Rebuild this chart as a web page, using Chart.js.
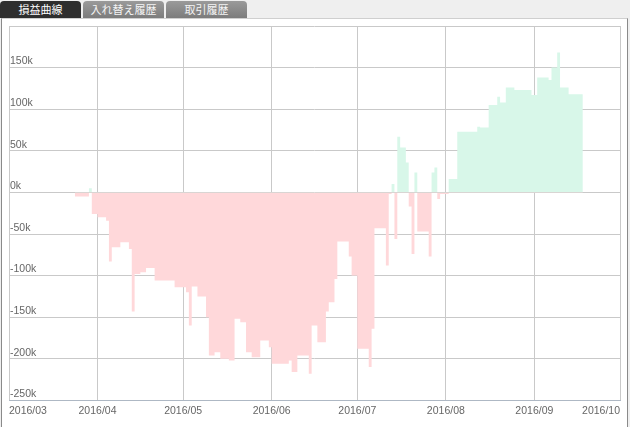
<!DOCTYPE html>
<html>
<head>
<meta charset="utf-8">
<script src="https://cdn.jsdelivr.net/npm/chart.js@4.4.1/dist/chart.umd.min.js"></script>
<style>
  html, body { margin: 0; padding: 0; }
  body { width: 630px; height: 427px; background: #efefef; position: relative; overflow: hidden;
         font-family: "Noto Sans CJK JP", "Noto Sans", sans-serif; }
  .tab { position: absolute; top: 1px; height: 17px; width: 81px; border-radius: 4px 4px 0 0;
         color: #fff; font-size: 11px; line-height: 17px; text-align: center; }
  .tab.on { background: #2e2e2e; }
  .tab.off { background: linear-gradient(#9a9a9a, #7c7c7c); color: #f4f4f4; }
  #frame { position: absolute; left: 1px; top: 18px; width: 625px; height: 420px; background: #fff;
           border-left: 1px solid #8a8a8a; border-right: 1px solid #8a8a8a; border-top: 1px solid #cfcfcf; }
  #wrap { position: absolute; left: 0; top: 0; width: 630px; height: 427px; }
</style>
</head>
<body>
<div class="tab on" style="left:0px">損益曲線</div>
<div class="tab off" style="left:83px">入れ替え履歴</div>
<div class="tab off" style="left:166px">取引履歴</div>
<div id="frame"></div>
<div id="wrap"><canvas id="pnlChart" width="630" height="427"></canvas></div>
<script>
// profit / loss curve, values in yen
const dates = [
  '2016-03-24', '2016-03-29', '2016-03-30', '2016-04-01', '2016-04-04', '2016-04-05', '2016-04-06',
  '2016-04-09', '2016-04-12', '2016-04-13', '2016-04-14', '2016-04-16', '2016-04-18', '2016-04-21',
  '2016-04-28', '2016-05-02', '2016-05-03', '2016-05-04', '2016-05-06', '2016-05-09', '2016-05-10',
  '2016-05-12', '2016-05-14', '2016-05-17', '2016-05-19', '2016-05-21', '2016-05-23', '2016-05-25',
  '2016-05-28', '2016-05-31', '2016-06-01', '2016-06-07', '2016-06-08', '2016-06-10', '2016-06-14',
  '2016-06-15', '2016-06-17', '2016-06-20', '2016-06-21', '2016-06-23', '2016-06-24', '2016-06-28',
  '2016-06-29', '2016-07-01', '2016-07-05', '2016-07-06', '2016-07-07', '2016-07-11', '2016-07-12',
  '2016-07-13', '2016-07-14', '2016-07-15', '2016-07-16', '2016-07-18', '2016-07-19', '2016-07-20',
  '2016-07-21', '2016-07-22', '2016-07-26', '2016-07-27', '2016-07-28', '2016-07-29', '2016-07-30',
  '2016-08-02', '2016-08-05', '2016-08-12', '2016-08-13', '2016-08-16', '2016-08-19', '2016-08-20',
  '2016-08-22', '2016-08-25', '2016-08-31', '2016-09-02', '2016-09-06', '2016-09-07', '2016-09-09',
  '2016-09-10', '2016-09-13', '2016-09-18'
];
const profit = [
  -5000, 5000, -26000, -30000, -34000, -83000, -66000,
  -60000, -68000, -143000, -98000, -96000, -91000, -106000,
  -114000, -120000, -160000, -113000, -125000, -150000, -196000,
  -192000, -200000, -202000, -152000, -156000, -192000, -198000,
  -178000, -186000, -206000, -202000, -216000, -196000, -218000,
  -160000, -180000, -143000, -132000, -104000, -59000, -77000,
  -100000, -188000, -210000, -164000, -43000, -88000, -2000,
  10000, -56000, 67000, 54000, 36000, -17000, -74000,
  24000, -47000, -77000, 24000, 30000, -8000, -2000,
  16000, 73000, 79000, 78000, 105000, 115000, 108000,
  126000, 123000, 117000, 138000, 135000, 150000, 168000,
  126000, 118000, 118000
];
const monthTicks = ['2016-03-01', '2016-04-01', '2016-05-01', '2016-06-01',
                    '2016-07-01', '2016-08-01', '2016-09-01', '2016-10-01'];

const DAY = 86400000;
const origin = Date.UTC(2016, 2, 1);
function toDay(s) {
    const p = s.split('-').map(Number);
    return (Date.UTC(p[0], p[1] - 1, p[2]) - origin) / DAY;
}
function dayLabel(v) {
    const d = new Date(origin + v * DAY);
    return d.getUTCFullYear() + '/' + String(d.getUTCMonth() + 1).padStart(2, '0');
}

const points = dates.map((s, i) => ({ x: toDay(s), y: profit[i] }));
const tickDays = monthTicks.map(toDay);
const tickFont = { family: '"Liberation Sans", Arial, sans-serif', size: 10.5 };

const ctx = document.getElementById('pnlChart').getContext('2d');
const chart = new Chart(ctx, {
    type: 'line',
    data: {
        datasets: [{
            data: points,
            stepped: true,
            borderWidth: 0,
            borderColor: 'rgba(0,0,0,0)',
            pointRadius: 0,
            fill: { target: 'origin', above: '#d8f7e9', below: '#ffd8da' }
        }]
    },
    options: {
        responsive: false,
        animation: false,
        layout: { padding: { left: 7, right: 10, top: 26, bottom: 6 } },
        plugins: { legend: { display: false }, tooltip: { enabled: false } },
        scales: {
            x: {
                type: 'linear',
                min: tickDays[0],
                max: tickDays[tickDays.length - 1],
                afterBuildTicks: axis => { axis.ticks = tickDays.map(v => ({ value: v })); },
                grid: { color: '#c9c9c9', drawTicks: false },
                border: { color: '#aeb8c4' },
                ticks: {
                    align: 'inner', padding: 4, color: '#666', font: tickFont, maxRotation: 0,
                    callback: v => dayLabel(v)
                }
            },
            y: {
                min: -250000,
                max: 200000,
                grid: { color: '#c9c9c9', drawTicks: false },
                border: { display: false },
                ticks: {
                    stepSize: 50000, mirror: true, padding: 1, labelOffset: -6,
                    color: '#666', font: tickFont,
                    callback: v => v === 200000 ? '' : (v / 1000) + 'k'
                }
            }
        }
    }
});
</script>
</body>
</html>
